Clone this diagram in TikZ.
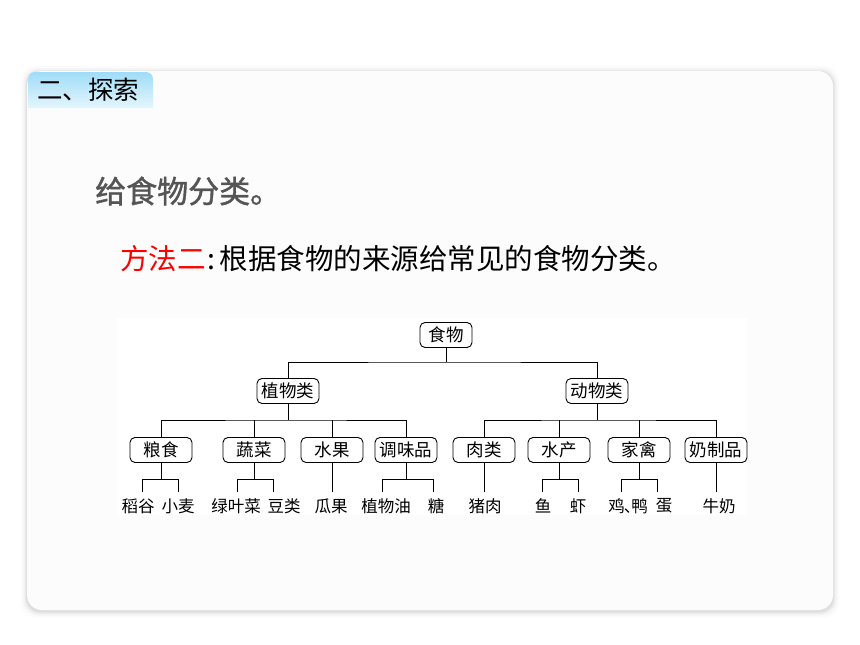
\documentclass[tikz,border=0pt]{standalone}
\usepackage{fontspec}
\newfontfamily\cjk{Noto Sans CJK SC}
\newfontfamily\cjkb[FakeBold=1.3]{Noto Sans CJK SC}
\usetikzlibrary{positioning}
\definecolor{cardbg}{RGB}{252,252,252}
\definecolor{tabtop}{RGB}{160,220,248}
\definecolor{tabbot}{RGB}{228,246,253}
\definecolor{titlegray}{RGB}{85,85,85}
\tikzset{
  catbox/.style={draw=black, line width=0.9pt, rounded corners=5pt, minimum width=62pt, minimum height=25pt, inner sep=0pt, font=\cjk\fontsize{17.5}{17.5}\selectfont},
  leaf/.style={inner sep=0pt, font=\cjk\fontsize{16.5}{16.5}\selectfont},
  link/.style={draw=black, line width=0.9pt}
}
\begin{document}
\begin{tikzpicture}[x=1pt,y=-1pt]
\useasboundingbox (0,0) rectangle (860,645);
\fill[white] (0,0) rectangle (860,645);
% card shadow
\foreach \d/\o in {6/0.015,4/0.025,2.5/0.035,1.2/0.05}{
  \fill[black,opacity=\o,rounded corners=15pt] (27-\d,71-\d+1) rectangle (833+\d,610+\d+1.5);
}
\fill[cardbg,rounded corners=15pt] (27,71) rectangle (833,610);
% tab
\shade[top color=tabtop, bottom color=tabbot] (28,108) [rounded corners=7pt] -- (28,72) -- (153,72) [sharp corners] -- (153,108) -- cycle;
\node[anchor=west, inner sep=0pt, font=\cjk\fontsize{25.5}{25.5}\selectfont] (tab) at (37,90) {二、探索};
% title
\node[anchor=west, inner sep=0pt, text=titlegray, font=\cjkb\fontsize{31}{31}\selectfont] (title) at (95,191) {给食物分类。};
\node[anchor=west, inner sep=0pt, font=\cjk\fontsize{28.5}{28.5}\selectfont] (method) at (120,259) {\textcolor{red}{方法二}\hspace{2pt}:\hspace{4pt}根据食物的来源给常见的食物分类。};
% diagram background
\fill[white] (117,318) rectangle (747,515);
% nodes
\node[catbox, minimum width=52pt] (food) at (446,335) {食物};
\node[catbox] (plant) at (288,391) {植物类};
\node[catbox] (animal) at (597,391) {动物类};
\node[catbox] (grain) at (161,450) {粮食};
\node[catbox] (veg) at (254,450) {蔬菜};
\node[catbox] (fruit) at (332,450) {水果};
\node[catbox] (season) at (406,450) {调味品};
\node[catbox] (meat) at (484,450) {肉类};
\node[catbox] (aqua) at (559,450) {水产};
\node[catbox] (poultry) at (639,450) {家禽};
\node[catbox] (dairy) at (716,450) {奶制品};
% leaves
\node[leaf] (rice) at (138,506) {稻谷};
\node[leaf] (wheat) at (178,506) {小麦};
\node[leaf] (greens) at (236,506) {绿叶菜};
\node[leaf] (beans) at (284,506) {豆类};
\node[leaf] (melon) at (331,506) {瓜果};
\node[leaf] (oil) at (386,506) {植物油};
\node[leaf] (sugar) at (436,506) {糖};
\node[leaf] (pork) at (485,506) {猪肉};
\node[leaf] (fish) at (543,506) {鱼};
\node[leaf] (shrimp) at (578,506) {虾};
\node[leaf] (chick) at (628,506) {鸡\hspace{-1pt}、\hspace{-9pt}鸭};
\node[leaf] (egg) at (664,506) {蛋};
\node[leaf] (milk) at (719,506) {牛奶};
% junctions
\coordinate (j0) at (446,362);
\coordinate (jp) at (288,420);
\coordinate (ja) at (597,420);
% top level
\draw[link] (food.south) -- (j0);
\draw[link] (plant.north) |- (j0) -| (animal.north);
% plant branch
\draw[link] (plant.south) -- (jp);
\draw[link] (grain.north) |- (jp) -| (season.north);
\draw[link] (veg.north) -- (veg.north |- jp);
\draw[link] (fruit.north) -- (fruit.north |- jp);
% animal branch
\draw[link] (animal.south) -- (ja);
\draw[link] (meat.north) |- (ja) -| (dairy.north);
\draw[link] (aqua.north) -- (aqua.north |- ja);
\draw[link] (poultry.north) -- (poultry.north |- ja);
% leaf brackets
\coordinate (g1) at (142,492); \coordinate (g2) at (178,492);
\coordinate (v1) at (237,492); \coordinate (v2) at (273,492);
\coordinate (s1) at (382,492); \coordinate (s2) at (433,492);
\coordinate (a1) at (542,492); \coordinate (a2) at (578,492);
\coordinate (p1) at (621,492); \coordinate (p2) at (657,492);
\draw[link] (grain.south) -- ++(0,16) coordinate (gj);
\draw[link] (g1) |- (gj) -| (g2);
\draw[link] (veg.south) -- ++(0,16) coordinate (vj);
\draw[link] (v1) |- (vj) -| (v2);
\draw[link] (season.south) -- ++(0,16) coordinate (sj);
\draw[link] (s1) |- (sj) -| (s2);
\draw[link] (aqua.south) -- ++(0,16) coordinate (aj);
\draw[link] (a1) |- (aj) -| (a2);
\draw[link] (poultry.south) -- ++(0,16) coordinate (pj);
\draw[link] (p1) |- (pj) -| (p2);
\draw[link] (fruit.south) -- (fruit.south |- g1);
\draw[link] (meat.south) -- (meat.south |- g1);
\draw[link] (dairy.south) -- (dairy.south |- g1);
\end{tikzpicture}
\end{document}
